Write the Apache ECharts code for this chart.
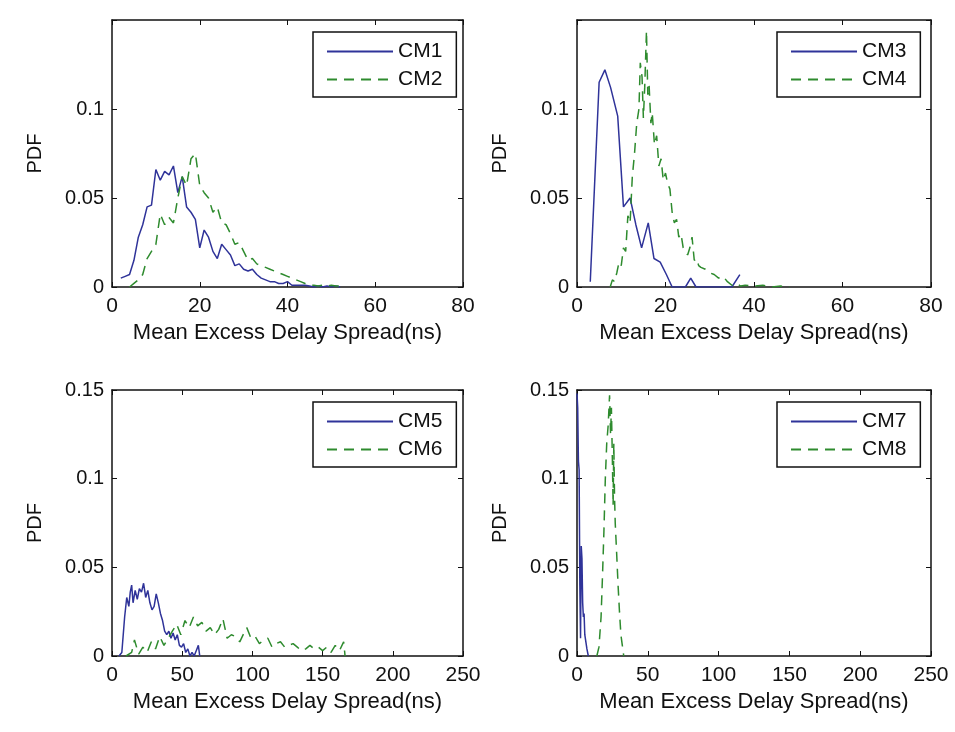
<!DOCTYPE html>
<html>
<head>
<meta charset="utf-8">
<script src="https://cdn.jsdelivr.net/npm/echarts@6/dist/echarts.min.js"></script>
<style>
  html, body { margin: 0; padding: 0; background: #fff; }
  #chart { width: 955px; height: 732px; }
</style>
</head>
<body>
<div id="chart"></div>
<script>
  // CM1 / CM2 (top left)
  const cm1X = [2, 3, 4, 5, 6, 7, 8, 9, 10, 11, 12, 13, 14, 15, 16, 17, 18, 19, 20, 21, 22, 23, 24, 25, 26, 27, 28, 29, 30, 31, 32, 33, 34, 35, 36, 37, 38, 39, 40, 41, 42, 43, 44, 45, 46, 47, 48, 49, 50, 51, 52]
  const cm1Y = [0.005, 0.006, 0.007, 0.015, 0.028, 0.035, 0.045, 0.046, 0.066, 0.060, 0.065, 0.063, 0.068, 0.053, 0.062, 0.045, 0.042, 0.038, 0.022, 0.032, 0.028, 0.020, 0.016, 0.024, 0.021, 0.018, 0.012, 0.013, 0.010, 0.009, 0.010, 0.007, 0.005, 0.004, 0.003, 0.003, 0.002, 0.002, 0.003, 0.001, 0.001, 0.001, 0.001, 0.0005, 0, 0.0005, 0, 0.0005, 0, 0.0005, 0]
  const cm2X = [4, 5, 6, 7, 8, 9, 10, 11, 12, 13, 14, 15, 16, 17, 18, 19, 20, 21, 22, 23, 24, 25, 26, 27, 28, 29, 30, 31, 32, 33, 34, 35, 36, 37, 38, 39, 40, 41, 42, 43, 44, 45, 46, 47, 48, 49, 50, 51, 52, 53]
  const cm2Y = [0, 0.002, 0.004, 0.007, 0.016, 0.020, 0.024, 0.041, 0.035, 0.039, 0.036, 0.050, 0.062, 0.057, 0.072, 0.075, 0.057, 0.053, 0.050, 0.042, 0.045, 0.036, 0.035, 0.030, 0.024, 0.025, 0.020, 0.015, 0.016, 0.013, 0.012, 0.011, 0.010, 0.009, 0.008, 0.007, 0.006, 0.005, 0.004, 0.003, 0.002, 0.001, 0.001, 0.0005, 0.001, 0.0005, 0.001, 0.0005, 0.0005, 0]

  // CM3 / CM4 (top right)
  const cm3X = [3, 5, 6.3, 7.6, 9.2, 10.5, 12, 13.3, 14.6, 16.1, 17.4, 18.8, 20.2, 21.5, 24.5, 25.7, 26.9, 35, 36.8]
  const cm3Y = [0.003, 0.115, 0.122, 0.112, 0.096, 0.045, 0.050, 0.035, 0.022, 0.036, 0.016, 0.014, 0.007, 0, 0, 0.005, 0, 0, 0.007]
  const cm4X = [7.5, 8, 8.5, 9, 9.5, 10, 10.5, 11, 11.5, 12, 12.5, 13, 13.5, 14, 14.3, 14.7, 15, 15.3, 15.7, 16, 16.3, 16.7, 17, 17.5, 18, 18.5, 19, 19.5, 20, 20.5, 21, 21.5, 22, 22.5, 23, 23.5, 24, 24.5, 25, 25.5, 26, 26.5, 27, 27.5, 28, 29, 30, 31, 32, 33, 34, 35, 36, 37, 38, 40, 42, 44, 46, 48]
  const cm4Y = [0, 0.004, 0.003, 0.008, 0.014, 0.012, 0.022, 0.020, 0.040, 0.036, 0.062, 0.075, 0.092, 0.100, 0.126, 0.118, 0.095, 0.112, 0.144, 0.108, 0.113, 0.092, 0.098, 0.080, 0.085, 0.068, 0.072, 0.060, 0.064, 0.058, 0.055, 0.042, 0.036, 0.038, 0.028, 0.030, 0.022, 0.020, 0.018, 0.022, 0.028, 0.015, 0.016, 0.012, 0.011, 0.010, 0.008, 0.007, 0.005, 0.006, 0.003, 0.001, 0.002, 0.0005, 0.001, 0.0005, 0.001, 0, 0.0005, 0]

  // CM5 / CM6 (bottom left)
  const cm5X = [5, 7, 9, 10.5, 12, 13, 14, 15, 16.5, 18, 19.5, 21, 22.5, 24, 25.5, 27, 28.5, 30, 31.5, 33, 34.5, 36, 37.5, 39, 40.5, 42, 43.5, 45, 46.5, 48, 49.5, 51, 52.5, 54, 55.5, 57, 58.5, 60, 61.5, 62.5]
  const cm5Y = [0, 0.002, 0.022, 0.033, 0.028, 0.036, 0.040, 0.030, 0.037, 0.032, 0.038, 0.036, 0.041, 0.033, 0.037, 0.030, 0.026, 0.028, 0.035, 0.030, 0.024, 0.020, 0.014, 0.012, 0.014, 0.010, 0.013, 0.009, 0.012, 0.006, 0.005, 0.007, 0.002, 0.004, 0, 0.002, 0, 0.003, 0.006, 0]
  const cm6X = [10, 14, 16, 19, 22, 25, 28, 31, 34, 37, 40, 43, 46, 49, 52, 55, 58, 61, 64, 67, 70, 73, 76, 79, 82, 85, 88, 91, 94, 96, 99, 102, 105, 108, 111, 114, 117, 120, 123, 126, 129, 132, 135, 138, 141, 144, 147, 150, 153, 156, 159, 162, 165, 166]
  const cm6Y = [0, 0.002, 0.009, 0.001, 0.005, 0.002, 0.008, 0.004, 0.011, 0.006, 0.010, 0.014, 0.018, 0.012, 0.020, 0.016, 0.022, 0.017, 0.019, 0.014, 0.016, 0.012, 0.015, 0.021, 0.010, 0.012, 0.011, 0.008, 0.013, 0.016, 0.010, 0.011, 0.007, 0.009, 0.010, 0.005, 0.007, 0.008, 0.005, 0.006, 0.007, 0.005, 0.003, 0.004, 0.006, 0.004, 0.005, 0.003, 0.005, 0.002, 0.006, 0.003, 0.008, 0]

  // CM7 / CM8 (bottom right)
  const cm7X = [0, 0.5, 1, 1.5, 2, 2.5, 3, 3.5, 4, 4.5, 5, 5.5, 6, 6.5, 7, 8]
  const cm7Y = [0.148, 0.140, 0.110, 0.105, 0.040, 0.010, 0.062, 0.055, 0.030, 0.022, 0.024, 0.012, 0.011, 0.012, 0.004, 0]
  const cm8X = [14, 15.5, 17, 18, 19, 20, 21, 22, 23, 23.7, 24.3, 25, 25.5, 26, 26.5, 27, 28, 29, 30, 31, 32, 33]
  const cm8Y = [0, 0.005, 0.022, 0.045, 0.070, 0.100, 0.120, 0.130, 0.147, 0.125, 0.140, 0.110, 0.085, 0.120, 0.090, 0.075, 0.058, 0.040, 0.025, 0.012, 0.006, 0]

  const xMaxTop = 80, xStepTop = 20
  const xMaxBottom = 250, xStepBottom = 50
  const yMax = 0.15, yStep = 0.05

  const FONT = 'Liberation Sans, Arial, Helvetica, sans-serif'
  const BLUE = '#2f3399'
  const GREEN = '#2e8b2e'
  const INK = '#111'

  const panels = [
    { grid: { left: 112, top: 20, width: 351, height: 267 }, legend: { left: 313, top: 32 }, xMax: xMaxTop, xStep: xStepTop, hideTopY: true,
      lines: [['CM1', cm1X, cm1Y], ['CM2', cm2X, cm2Y]] },
    { grid: { left: 577, top: 20, width: 354, height: 267 }, legend: { left: 777, top: 32 }, xMax: xMaxTop, xStep: xStepTop, hideTopY: true,
      lines: [['CM3', cm3X, cm3Y], ['CM4', cm4X, cm4Y]] },
    { grid: { left: 112, top: 390, width: 351, height: 266 }, legend: { left: 313, top: 402 }, xMax: xMaxBottom, xStep: xStepBottom, hideTopY: false,
      lines: [['CM5', cm5X, cm5Y], ['CM6', cm6X, cm6Y]] },
    { grid: { left: 577, top: 390, width: 354, height: 266 }, legend: { left: 777, top: 402 }, xMax: xMaxBottom, xStep: xStepBottom, hideTopY: false,
      lines: [['CM7', cm7X, cm7Y], ['CM8', cm8X, cm8Y]] }
  ]

  const zip = (xs, ys) => xs.map((x, i) => [x, ys[i]])

  const axisLine = { show: true, onZero: false, lineStyle: { color: INK, width: 1.5 } }
  const axisTick = { show: true, inside: true, length: 5, lineStyle: { color: INK, width: 1 } }

  const grid = [], xAxis = [], yAxis = [], legend = [], series = []

  panels.forEach((p, i) => {
    grid.push(Object.assign({ containLabel: false }, p.grid))

    // bottom axis with labels, top axis just for the inward ticks
    xAxis.push({
      type: 'value', gridIndex: i, position: 'bottom', min: 0, max: p.xMax, interval: p.xStep,
      axisLine, axisTick, splitLine: { show: false },
      axisLabel: { color: INK, fontSize: 21, fontFamily: FONT, margin: 9 },
      name: 'Mean Excess Delay Spread(ns)', nameLocation: 'middle', nameGap: 35,
      nameTextStyle: { color: INK, fontSize: 22, fontFamily: FONT }
    })
    xAxis.push({
      type: 'value', gridIndex: i, position: 'top', min: 0, max: p.xMax, interval: p.xStep,
      axisLine, axisTick, splitLine: { show: false }, axisLabel: { show: false }
    })

    yAxis.push({
      type: 'value', gridIndex: i, position: 'left', min: 0, max: yMax, interval: yStep,
      axisLine, axisTick, splitLine: { show: false },
      axisLabel: {
        color: INK, fontSize: 20, fontFamily: FONT, margin: 8,
        formatter: v => (p.hideTopY && v > 0.12) ? '' : String(+v.toFixed(2))
      },
      name: 'PDF', nameLocation: 'middle', nameGap: 67,
      nameTextStyle: { color: INK, fontSize: 20, fontFamily: FONT }
    })
    yAxis.push({
      type: 'value', gridIndex: i, position: 'right', min: 0, max: yMax, interval: yStep,
      axisLine, axisTick, splitLine: { show: false }, axisLabel: { show: false }
    })

    legend.push({
      left: p.legend.left, top: p.legend.top, orient: 'vertical',
      data: p.lines.map(l => l[0]),
      itemWidth: 66, itemHeight: 14, itemGap: 7,
      padding: [9, 14, 7, 13],
      itemStyle: { opacity: 0 },
      backgroundColor: '#fff', borderColor: INK, borderWidth: 1.5, borderRadius: 0,
      textStyle: { color: INK, fontSize: 21, fontFamily: FONT },
      selectedMode: false
    })

    p.lines.forEach((l, k) => {
      series.push({
        name: l[0], type: 'line', xAxisIndex: i * 2, yAxisIndex: i * 2,
        data: zip(l[1], l[2]), symbol: 'none', showSymbol: false,
        color: k === 0 ? BLUE : GREEN,
        lineStyle: { width: 1.5, color: k === 0 ? BLUE : GREEN, type: k === 0 ? 'solid' : [10, 7] },
        z: 2 + k
      })
    })
  })

  const chart = echarts.init(document.getElementById('chart'))
  chart.setOption({
    backgroundColor: '#fff',
    animation: false,
    grid, xAxis, yAxis, legend, series
  })
</script>
</body>
</html>
